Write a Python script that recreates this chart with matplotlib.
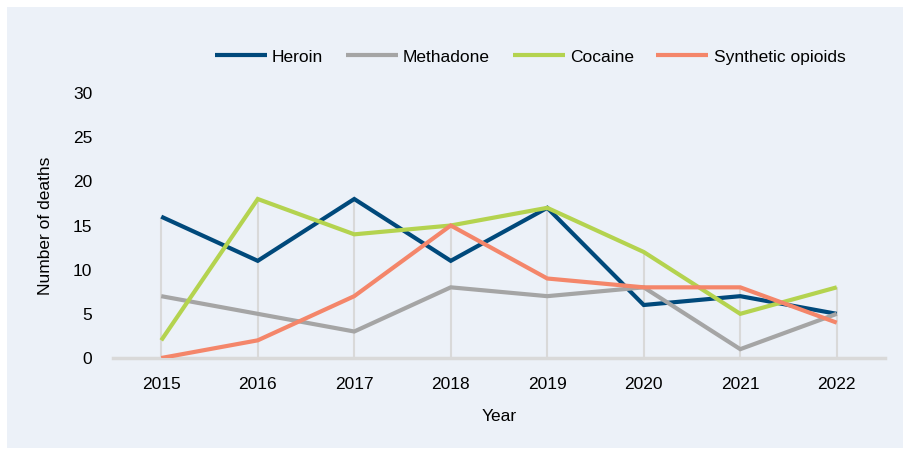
import matplotlib.pyplot as plt
from matplotlib.patches import Rectangle
import numpy as np

years = ['2015', '2016', '2017', '2018', '2019', '2020', '2021', '2022']
heroin = [16, 11, 18, 11, 17, 6, 7, 5]
methadone = [7, 5, 3, 8, 7, 8, 1, 5]
cocaine = [2, 18, 14, 15, 17, 12, 5, 8]
synthetic = [0, 2, 7, 15, 9, 8, 8, 4]

series = [('Heroin', heroin, '#00497b'),
          ('Methadone', methadone, '#a5a5a5'),
          ('Cocaine', cocaine, '#b4d34f'),
          ('Synthetic opioids', synthetic, '#f4866a')]

plt.rcParams['font.family'] = ['Liberation Sans', 'DejaVu Sans']
plt.rcParams['font.size'] = 12.5

bg = '#ecf1f8'
fig = plt.figure(figsize=(9.04, 4.57), dpi=100)
fig.patch.set_facecolor('white')
# light panel behind the whole chart
fig.patches.append(Rectangle((7 / 904, 1 - 448 / 457), 1, 441 / 457,
                             transform=fig.transFigure, facecolor=bg,
                             edgecolor='none', zorder=-10))

ax = fig.add_axes([113 / 904, 1 - 358 / 457, 772 / 904, 265 / 457])
ax.set_facecolor(bg)
x = np.arange(len(years))

# drop lines from the highest value down to the axis
tops = np.max([s[1] for s in series], axis=0)
ax.vlines(x, 0, tops, color='#d9d9d9', lw=1.5, zorder=1)

for name, vals, col in series:
    ax.plot(x, vals, color=col, lw=3, label=name, zorder=3,
            solid_capstyle='butt', solid_joinstyle='miter')

ax.set_xlim(-0.5, 7.5)
ax.set_ylim(0, 30)
ax.set_yticks(range(0, 31, 5))
ax.set_xticks(x)
ax.set_xticklabels(years)
for sp in ['top', 'right', 'left']:
    ax.spines[sp].set_visible(False)
ax.spines['bottom'].set_color('#d9d9d9')
ax.spines['bottom'].set_linewidth(2.5)
ax.tick_params(length=0)
ax.tick_params(axis='y', pad=15)
ax.tick_params(axis='x', pad=14)

ax.set_xlabel('Year', labelpad=12)
ax.set_ylabel('Number of deaths', labelpad=14)

ax.legend(loc='center', bbox_to_anchor=(530 / 904, 1 - 57 / 457),
          bbox_transform=fig.transFigure, ncol=4, frameon=False,
          handlelength=3.0, handletextpad=0.3, columnspacing=1.3)

fig.savefig('out.png', dpi=100, facecolor='white')
